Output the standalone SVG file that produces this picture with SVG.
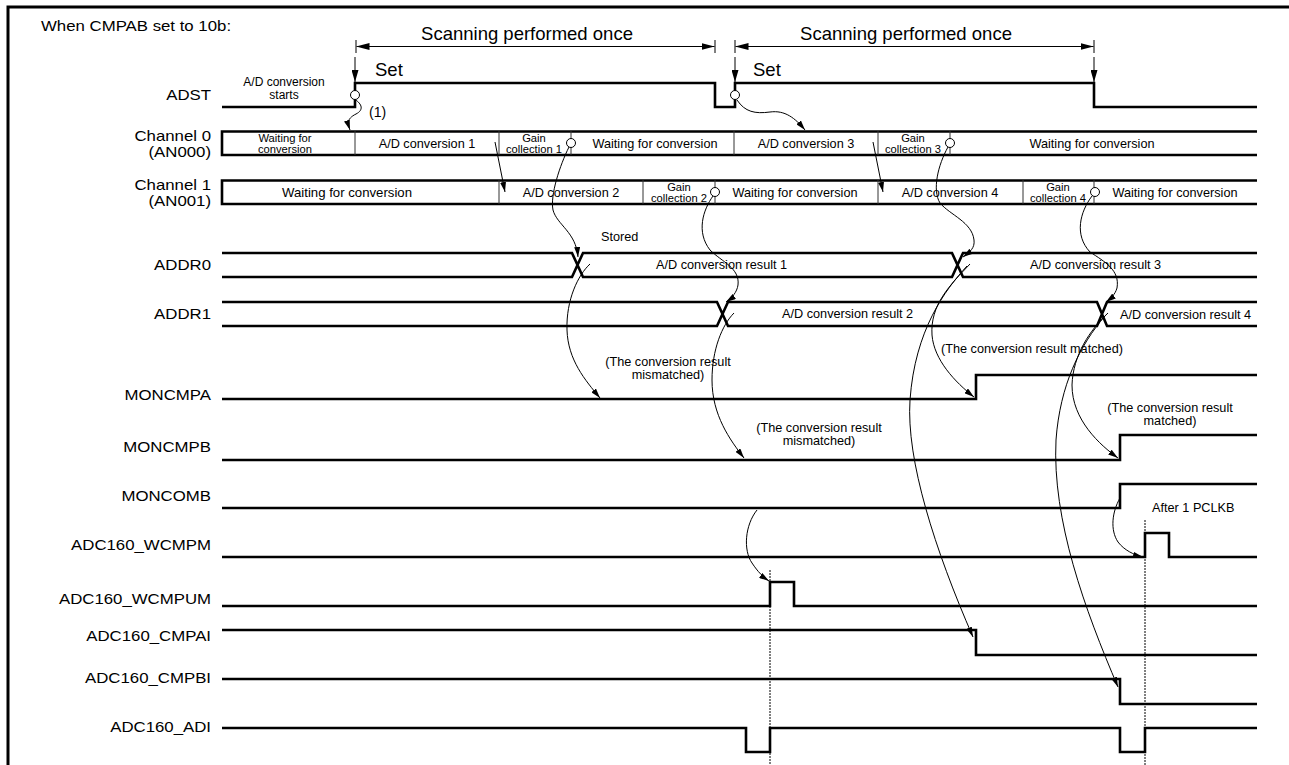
<svg xmlns="http://www.w3.org/2000/svg" width="1289" height="765" viewBox="0 0 1289 765">
<defs>
<style>
text{font-family:"Liberation Sans",Arial,sans-serif;fill:#000}
.lbl{font-size:14px;text-anchor:end}
.big{font-size:18.5px}
.sm{font-size:12.7px;text-anchor:middle}
.sl{font-size:12.7px}
.two{font-size:11.2px;text-anchor:middle}
.sig{fill:none;stroke:#000;stroke-width:2.6}
.div{stroke:#333;stroke-width:1}
.cur{fill:none;stroke:#000;stroke-width:1}
.dash{stroke:#000;stroke-width:1;stroke-dasharray:2 1}
.circ{fill:#fff;stroke:#000;stroke-width:1}
</style>
<marker id="ah" markerUnits="userSpaceOnUse" markerWidth="10" markerHeight="6" refX="10" refY="3" orient="auto"><path d="M0,0L10,3L0,6z"/></marker>
<marker id="ad" markerUnits="userSpaceOnUse" markerWidth="13" markerHeight="7" refX="13" refY="3.5" orient="auto-start-reverse"><path d="M0,0L13,3.5L0,7z"/></marker>
<marker id="as" markerUnits="userSpaceOnUse" markerWidth="12" markerHeight="7" refX="12" refY="3.5" orient="auto"><path d="M0,0L12,3.5L0,7z"/></marker>
</defs>
<rect width="1289" height="765" fill="#fff"/>
<g id="frame">
<path d="M8,765V7H1289" fill="none" stroke="#000" stroke-width="3"/>
<text transform="translate(41 31) scale(1.2 1)" style="font-size:14px">When CMPAB set to 10b:</text>
</g>
<g id="scan1">
<line x1="356" y1="40" x2="356" y2="53" stroke="#000" stroke-width="1"/>
<line x1="715" y1="40" x2="715" y2="53" stroke="#000" stroke-width="1"/>
<line x1="356.5" y1="46.5" x2="714.5" y2="46.5" stroke="#000" stroke-width="1" marker-start="url(#ad)" marker-end="url(#ad)"/>
<text class="big" x="527" y="40" text-anchor="middle">Scanning performed once</text>
</g>
<g id="scan2">
<line x1="735" y1="40" x2="735" y2="53" stroke="#000" stroke-width="1"/>
<line x1="1094" y1="40" x2="1094" y2="53" stroke="#000" stroke-width="1"/>
<line x1="735.5" y1="46.5" x2="1093.5" y2="46.5" stroke="#000" stroke-width="1" marker-start="url(#ad)" marker-end="url(#ad)"/>
<text class="big" x="906" y="40" text-anchor="middle">Scanning performed once</text>
</g>
<g id="adst">
<text class="lbl" transform="translate(211 100) scale(1.2 1)">ADST</text>
<path class="sig" d="M222,107H355V83H715V107H735V83H1094V107H1257"/>
<line x1="355" y1="57" x2="355" y2="82" stroke="#000" stroke-width="1" marker-end="url(#as)"/>
<line x1="735" y1="57" x2="735" y2="82" stroke="#000" stroke-width="1" marker-end="url(#as)"/>
<line x1="1094" y1="57" x2="1094" y2="82" stroke="#000" stroke-width="1" marker-end="url(#as)"/>
<text class="big" x="375" y="76">Set</text>
<text class="big" x="753" y="76">Set</text>
<text class="sm" x="284" y="86" style="font-size:12px">A/D conversion</text>
<text class="sm" x="284" y="99" style="font-size:12px">starts</text>
<circle class="circ" cx="355" cy="95" r="4.5"/>
<circle class="circ" cx="735" cy="95" r="4.5"/>
<text x="369" y="117" style="font-size:14px">(1)</text>
</g>
<g id="ch0">
<text class="lbl" transform="translate(211 141) scale(1.2 1)">Channel 0</text>
<text class="lbl" transform="translate(211 157) scale(1.2 1)">(AN000)</text>
<path class="sig" d="M222,131.5H1257M222,155H1257M222,130.2V156.3"/>
<path class="div" d="M355,131V155M499,131V155M571,131V155M734,131V155M878,131V155M950,131V155"/>
<text class="two" x="285" y="142">Waiting for</text>
<text class="two" x="285" y="153">conversion</text>
<text class="sm" x="427" y="148">A/D conversion 1</text>
<text class="two" x="534" y="142">Gain</text>
<text class="two" x="534" y="153">collection 1</text>
<text class="sm" x="655" y="148">Waiting for conversion</text>
<text class="sm" x="806" y="148">A/D conversion 3</text>
<text class="two" x="913" y="142">Gain</text>
<text class="two" x="913" y="153">collection 3</text>
<text class="sm" x="1092" y="148">Waiting for conversion</text>
<circle class="circ" cx="571" cy="143" r="4.5"/>
<circle class="circ" cx="950" cy="143" r="4.5"/>
</g>
<g id="ch1">
<text class="lbl" transform="translate(211 190) scale(1.2 1)">Channel 1</text>
<text class="lbl" transform="translate(211 206) scale(1.2 1)">(AN001)</text>
<path class="sig" d="M222,180.5H1257M222,204H1257M222,179.2V205.3"/>
<path class="div" d="M499,180V204M643,180V204M715,180V204M878,180V204M1023,180V204M1094,180V204"/>
<text class="sm" x="347" y="197" style="font-size:13.2px">Waiting for conversion</text>
<text class="sm" x="571" y="197">A/D conversion 2</text>
<text class="two" x="679" y="191">Gain</text>
<text class="two" x="679" y="202">collection 2</text>
<text class="sm" x="795" y="197">Waiting for conversion</text>
<text class="sm" x="950" y="197">A/D conversion 4</text>
<text class="two" x="1058" y="191">Gain</text>
<text class="two" x="1058" y="202">collection 4</text>
<text class="sm" x="1175" y="197">Waiting for conversion</text>
<circle class="circ" cx="715" cy="192" r="4.5"/>
<circle class="circ" cx="1095" cy="192" r="4.5"/>
</g>
<g id="addr0">
<text class="lbl" transform="translate(211 270) scale(1.2 1)">ADDR0</text>
<path class="sig" d="M222,253H572L583,277H952L963,253H1257M222,277H572L583,253H952L963,277H1257"/>
<text class="sl" x="601" y="241">Stored</text>
<text class="sl" x="656" y="269">A/D conversion result 1</text>
<text class="sl" x="1030" y="269">A/D conversion result 3</text>
</g>
<g id="addr1">
<text class="lbl" transform="translate(211 319) scale(1.2 1)">ADDR1</text>
<path class="sig" d="M222,302H717L728,326H1097L1107,302H1257M222,326H717L728,302H1097L1107,326H1257"/>
<text class="sl" x="782" y="318">A/D conversion result 2</text>
<text class="sl" x="1120" y="319">A/D conversion result 4</text>
</g>
<g id="moncmpa">
<text class="lbl" transform="translate(211 400) scale(1.2 1)">MONCMPA</text>
<path class="sig" d="M222,399H976V375H1257"/>
<text class="sm" x="668" y="366">(The conversion result</text>
<text class="sm" x="668" y="379">mismatched)</text>
<text class="sl" x="941" y="353">(The conversion result matched)</text>
</g>
<g id="moncmpb">
<text class="lbl" transform="translate(211 452) scale(1.2 1)">MONCMPB</text>
<path class="sig" d="M222,460H1120V435H1257"/>
<text class="sm" x="819" y="432">(The conversion result</text>
<text class="sm" x="819" y="445">mismatched)</text>
<text class="sm" x="1170" y="412">(The conversion result</text>
<text class="sm" x="1170" y="425">matched)</text>
</g>
<g id="moncomb">
<text class="lbl" transform="translate(211 501) scale(1.2 1)">MONCOMB</text>
<path class="sig" d="M222,508H1120V484H1257"/>
<text class="sl" x="1152" y="512">After 1 PCLKB</text>
</g>
<g id="wcmpm">
<text class="lbl" transform="translate(211 550) scale(1.2 1)">ADC160_WCMPM</text>
<path class="sig" d="M222,557H1145V533H1169V557H1257"/>
</g>
<g id="wcmpum">
<text class="lbl" transform="translate(211 604) scale(1.2 1)">ADC160_WCMPUM</text>
<path class="sig" d="M222,606H770V582H794V606H1257"/>
</g>
<g id="cmpai">
<text class="lbl" transform="translate(211 641) scale(1.2 1)">ADC160_CMPAI</text>
<path class="sig" d="M222,630H976V655H1257"/>
</g>
<g id="cmpbi">
<text class="lbl" transform="translate(211 683) scale(1.2 1)">ADC160_CMPBI</text>
<path class="sig" d="M222,679H1120V704H1257"/>
</g>
<g id="adi">
<text class="lbl" transform="translate(211 732) scale(1.2 1)">ADC160_ADI</text>
<path class="sig" d="M222,728H746V752H770V728H1120V752H1145V728H1257"/>
</g>
<g id="connectors">
<line class="dash" x1="770" y1="570" x2="770" y2="765"/>
<line class="dash" x1="1145" y1="520" x2="1145" y2="765"/>
<path class="cur" marker-end="url(#ah)" d="M355,99.5C362,104 364,110 356,114C346,119 348,124 350,130"/>
<path class="cur" marker-end="url(#ah)" d="M737,100C745,112 755,114 770,112C785,110 795,118 805,130"/>
<path class="cur" marker-end="url(#ah)" d="M495,142L505,192"/>
<path class="cur" marker-end="url(#ah)" d="M873,142L883,192"/>
<path class="cur" marker-end="url(#ah)" d="M569,147C560,165 550,195 553,210C557,225 576,232 578,257"/>
<path class="cur" marker-end="url(#ah)" d="M590,264C578,275 566,300 567,330C568,360 585,380 600,398"/>
<path class="cur" marker-end="url(#ah)" d="M713,196C703,210 696,232 710,250C722,262 740,268 738,285C737,292 732,298 726,302"/>
<path class="cur" marker-end="url(#ah)" d="M734,313C722,325 712,350 712,380C712,415 730,440 744,458"/>
<path class="cur" marker-end="url(#ah)" d="M948,147C938,165 932,190 940,203C950,215 972,222 974,240C975,248 970,252 963,257"/>
<path class="cur" marker-end="url(#ah)" d="M970,264C950,285 930,305 932,335C934,360 955,382 974,397"/>
<path class="cur" marker-end="url(#ah)" d="M967,266C945,290 915,330 910,400C906,460 935,550 973,637"/>
<path class="cur" marker-end="url(#ah)" d="M1092,196C1080,212 1074,235 1090,252C1105,262 1120,270 1117,288C1115,295 1110,299 1106,302"/>
<path class="cur" marker-end="url(#ah)" d="M1108,313C1090,330 1073,355 1072,385C1072,420 1100,445 1118,458"/>
<path class="cur" marker-end="url(#ah)" d="M1105,316C1080,345 1060,385 1056,440C1052,520 1085,610 1118,687"/>
<path class="cur" marker-end="url(#ah)" d="M757,510C745,525 743,550 752,563C758,572 763,577 769,581"/>
<path class="cur" marker-end="url(#ah)" d="M1120,498C1112,512 1110,530 1118,542C1124,550 1134,555 1143,557"/>
</g>
</svg>
